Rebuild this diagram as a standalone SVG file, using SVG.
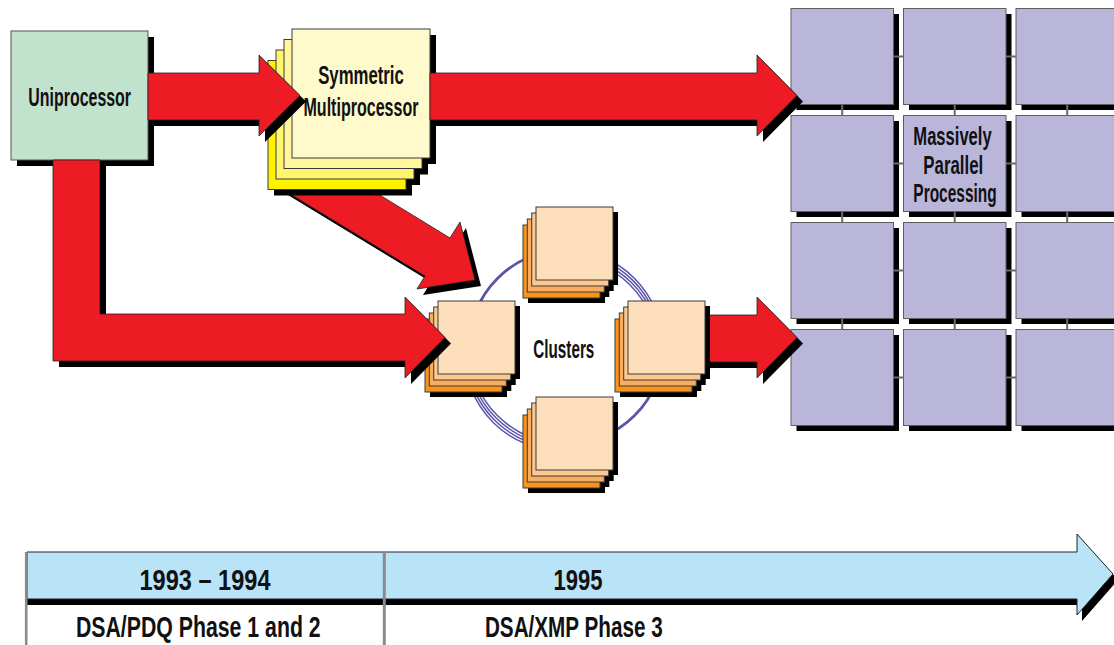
<svg xmlns="http://www.w3.org/2000/svg" width="1114" height="645" viewBox="0 0 1114 645">
  <defs>
    <style>
      .shadow { fill: #000; }
      .arrow { fill: #ED1C24; stroke: #231F20; stroke-width: 0.8; }
      .lbl { font-family: "Liberation Sans", Arial, Helvetica, sans-serif; font-size: 26px; font-weight: bold; fill: #111; text-anchor: middle; }
      .tl { font-size: 30px; }
      .cell { fill: #BAB6DA; stroke: #5E5E5E; stroke-width: 1; }
      .link { stroke: #6B6B6B; stroke-width: 2; fill: none; }
      .ring { fill: none; stroke: #5A55A8; }
      .card { stroke: #3A3A3A; stroke-width: 1; }
    </style>

    <!-- arrow outlines, reused for the body and its drop shadow -->
    <polygon id="a-uni-smp" points="148,73 259,73 259,55 300,95.5 259,136 259,120 148,120"/>
    <polygon id="a-smp-mpp" points="430,73 757,73 757,55 797,95.5 757,136 757,120 430,120"/>
    <polygon id="a-uni-cl" points="53,160 100,160 100,314 405,314 405,297 445,337.5 405,378 405,361 53,361"/>
    <polygon id="a-cl-mpp" points="700,315 757,315 757,297 797,337.5 757,378 757,362 700,362"/>
    <polygon id="a-smp-cl" points="277,186 365,186 450,238 460,222 475,280 417,289 425,276"/>
    <polygon id="a-time" points="27,552 1077,552 1077,534 1113,574 1077,615 1077,599 27,599"/>

    <!-- stacked card piles: one shadow under the whole pile, then cards back to front -->
    <g id="smp-stack">
      <rect class="shadow" x="-18" y="37.5" width="138" height="129"/>
      <rect class="shadow" x="-10" y="27" width="138" height="129"/>
      <rect class="shadow" x="-2" y="16.5" width="138" height="129"/>
      <rect class="shadow" x="6" y="6" width="138" height="129"/>
      <rect class="card" x="-24" y="31.5" width="138" height="129" fill="#FFF200"/>
      <rect class="card" x="-16" y="21" width="138" height="129" fill="#FFF46E"/>
      <rect class="card" x="-8" y="10.5" width="138" height="129" fill="#FFF69E"/>
      <rect class="card" x="0" y="0" width="138" height="129" fill="#FFFACC"/>
    </g>
    <g id="cl-stack">
      <rect class="shadow" x="-8" y="23" width="77" height="73"/>
      <rect class="shadow" x="-3.7" y="17" width="77" height="73"/>
      <rect class="shadow" x="0.7" y="11" width="77" height="73"/>
      <rect class="shadow" x="5" y="5" width="77" height="73"/>
      <rect class="card" x="-13" y="18" width="77" height="73" fill="#F7941D"/>
      <rect class="card" x="-8.7" y="12" width="77" height="73" fill="#FAAD5E"/>
      <rect class="card" x="-4.3" y="6" width="77" height="73" fill="#FDC78E"/>
      <rect class="card" x="0" y="0" width="77" height="73" fill="#FDDEBB"/>
    </g>
    <g id="mpp-cell">
      <rect class="shadow" x="5.5" y="5.5" width="102.5" height="96"/>
      <rect class="cell" x="0" y="0" width="102.5" height="96"/>
    </g>
  </defs>

  <!-- time line -->
  <g id="timeline">
    <use href="#a-time" class="shadow" transform="translate(5,6)"/>
    <rect class="shadow" x="27" y="599" width="10" height="6"/>
    <use href="#a-time" fill="#B9E4F8" stroke="#222" stroke-width="1"/>
    <line x1="26.2" y1="552" x2="26.2" y2="645" stroke="#8A8A8A" stroke-width="2.6"/>
    <line x1="384.3" y1="552" x2="384.3" y2="645" stroke="#8A8A8A" stroke-width="3"/>
    <text class="lbl tl" x="205" y="590" textLength="131" lengthAdjust="spacingAndGlyphs">1993 – 1994</text>
    <text class="lbl tl" x="578" y="590" textLength="49" lengthAdjust="spacingAndGlyphs">1995</text>
    <text class="lbl tl" x="198.3" y="636.5" textLength="244.7" lengthAdjust="spacingAndGlyphs">DSA/PDQ Phase 1 and 2</text>
    <text class="lbl tl" x="573.8" y="636.5" textLength="177.7" lengthAdjust="spacingAndGlyphs">DSA/XMP Phase 3</text>
  </g>

  <!-- massively parallel processing grid -->
  <g id="mpp">
    <use href="#mpp-cell" x="791" y="8.5"/>
    <use href="#mpp-cell" x="903.5" y="8.5"/>
    <use href="#mpp-cell" x="1016" y="8.5"/>
    <use href="#mpp-cell" x="791" y="115.5"/>
    <use href="#mpp-cell" x="903.5" y="115.5"/>
    <use href="#mpp-cell" x="1016" y="115.5"/>
    <use href="#mpp-cell" x="791" y="222.5"/>
    <use href="#mpp-cell" x="903.5" y="222.5"/>
    <use href="#mpp-cell" x="1016" y="222.5"/>
    <use href="#mpp-cell" x="791" y="329.5"/>
    <use href="#mpp-cell" x="903.5" y="329.5"/>
    <use href="#mpp-cell" x="1016" y="329.5"/>
    <text class="lbl" x="952.5" y="145" font-size="25" textLength="78.3" lengthAdjust="spacingAndGlyphs">Massively</text>
    <text class="lbl" x="953.3" y="173.5" font-size="25" textLength="60" lengthAdjust="spacingAndGlyphs">Parallel</text>
    <text class="lbl" x="955" y="202" font-size="25" textLength="83.3" lengthAdjust="spacingAndGlyphs">Processing</text>
  </g>
  <g id="mpp-links" class="link">
    <path d="M893.5,56.5h10M1006,56.5h10M893.5,163.5h10M1006,163.5h10M893.5,270.5h10M1006,270.5h10M893.5,377.5h10M1006,377.5h10"/>
    <path d="M842.2,104.5v11M954.7,104.5v11M1067.2,104.5v11M842.2,211.5v11M954.7,211.5v11M1067.2,211.5v11M842.2,318.5v11M954.7,318.5v11M1067.2,318.5v11"/>
  </g>

  <!-- arrows that pass beneath the card piles -->
  <g id="connectors-under">
    <use href="#a-smp-cl" class="shadow" transform="translate(6,6)"/>
    <use href="#a-smp-cl" class="arrow"/>
    <use href="#a-cl-mpp" class="shadow" transform="translate(6,6)"/>
    <use href="#a-cl-mpp" class="arrow"/>
  </g>

  <!-- interconnect ring between the clusters -->
  <g id="cluster-ring" class="ring">
    <path d="M469,347 A97,97 0 0 1 566,250" stroke-width="2.8"/>
    <path d="M663,347 A97,97 0 0 1 566,444" stroke-width="2.8"/>
    <g stroke-width="1.5">
      <path d="M566,250 A97,97 0 0 1 663,347"/>
      <path d="M564.5,252.2 A97,97 0 0 1 661.5,349.2"/>
      <path d="M563,254.4 A97,97 0 0 1 660,351.4"/>
      <path d="M561.5,256.6 A97,97 0 0 1 658.5,353.6"/>
      <path d="M566,444 A97,97 0 0 1 469,347"/>
      <path d="M564.5,446.2 A97,97 0 0 1 467.5,349.2"/>
      <path d="M563,448.4 A97,97 0 0 1 466,351.4"/>
      <path d="M561.5,450.6 A97,97 0 0 1 464.5,353.6"/>
    </g>
  </g>

  <!-- clusters -->
  <g id="cluster-top"><use href="#cl-stack" x="536" y="207"/></g>
  <g id="cluster-left"><use href="#cl-stack" x="438" y="301"/></g>
  <g id="cluster-right"><use href="#cl-stack" x="628" y="301"/></g>
  <g id="cluster-bottom"><use href="#cl-stack" x="536" y="397"/></g>
  <text class="lbl" x="563.8" y="357.5" textLength="61" lengthAdjust="spacingAndGlyphs">Clusters</text>

  <!-- symmetric multiprocessor -->
  <g id="smp">
    <use href="#smp-stack" x="292" y="29"/>
    <text class="lbl" x="361" y="84" font-size="25" textLength="85.7" lengthAdjust="spacingAndGlyphs">Symmetric</text>
    <text class="lbl" x="361" y="116" font-size="25" textLength="115" lengthAdjust="spacingAndGlyphs">Multiprocessor</text>
  </g>

  <!-- uniprocessor -->
  <g id="uniprocessor">
    <rect class="shadow" x="17" y="37" width="137" height="129"/>
    <rect x="11" y="31" width="137" height="129" fill="#C1E2CD" stroke="#555" stroke-width="1"/>
    <text class="lbl" x="79.7" y="106" textLength="102.7" lengthAdjust="spacingAndGlyphs">Uniprocessor</text>
  </g>

  <!-- arrows drawn over the nodes -->
  <g id="connectors">
    <use href="#a-uni-smp" class="shadow" transform="translate(6,6)"/>
    <use href="#a-uni-smp" class="arrow"/>
    <use href="#a-smp-mpp" class="shadow" transform="translate(6,6)"/>
    <use href="#a-smp-mpp" class="arrow"/>
    <use href="#a-uni-cl" class="shadow" transform="translate(6,6)"/>
    <use href="#a-uni-cl" class="arrow"/>
  </g>
</svg>
